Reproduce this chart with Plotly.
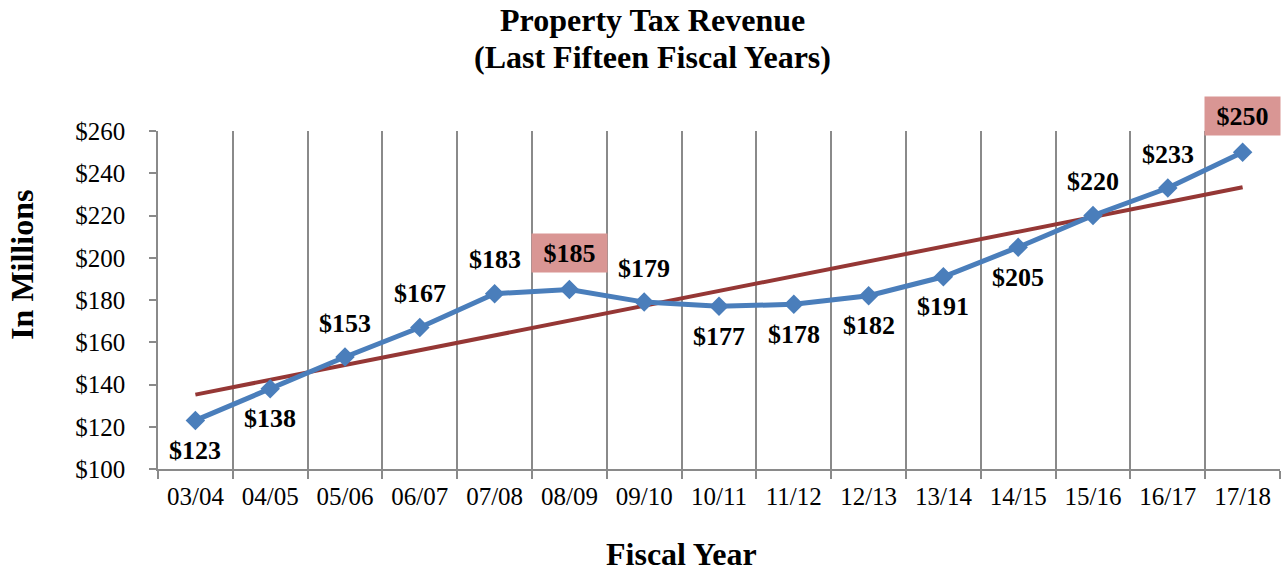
import numpy as np
import plotly.graph_objects as go

years = ["03/04", "04/05", "05/06", "06/07", "07/08", "08/09", "09/10", "10/11",
         "11/12", "12/13", "13/14", "14/15", "15/16", "16/17", "17/18"]
revenue = [123, 138, 153, 167, 183, 185, 179, 177, 178, 182, 191, 205, 220, 233, 250]
label_side = [-1, -1, 1, 1, 1, 1, 1, -1, -1, -1, -1, -1, 1, 1, 1]
highlight = [False] * 5 + [True] + [False] * 8 + [True]
y_ticks = [100, 120, 140, 160, 180, 200, 220, 240, 260]
title_lines = ["Property Tax Revenue", "(Last Fifteen Fiscal Years)"]

idx = np.arange(len(revenue))
slope, intercept = np.polyfit(idx, revenue, 1)
trend = slope * idx + intercept

FONT = "Liberation Serif"
H = 573

fig = go.Figure()
fig.add_trace(go.Scatter(x=years, y=list(trend), mode="lines",
                         line=dict(color="#953735", width=4), showlegend=False,
                         hoverinfo="skip"))
fig.add_trace(go.Scatter(x=years, y=revenue, mode="lines+markers",
                         line=dict(color="#4A7EBB", width=5),
                         marker=dict(symbol="diamond", size=15, color="#4A7EBB"),
                         showlegend=False))

for yr, v, side, hl in zip(years, revenue, label_side, highlight):
    if hl:
        fig.add_annotation(x=yr, y=v, xref="x", yref="y", text=f"${v}",
                           showarrow=False, yshift=36,
                           font=dict(family=FONT, size=26, color="black", weight="bold"),
                           bgcolor="#D99694", width=71, height=34, borderpad=2)
    else:
        fig.add_annotation(x=yr, y=v, xref="x", yref="y", text=f"${v}",
                           showarrow=False, yshift=34 if side > 0 else -30,
                           font=dict(family=FONT, size=26, color="black", weight="bold"))

# Title (two lines placed separately for tighter line spacing)
for line, ypix in zip(title_lines, [20, 57]):
    fig.add_annotation(xref="paper", yref="paper", x=0.441,
                       y=(H - 104 - ypix) / (H - 131 - 104),
                       xanchor="center", yanchor="middle", showarrow=False,
                       text=f"<b>{line}</b>",
                       font=dict(family=FONT, size=32, color="black"))
# Axis titles
fig.add_annotation(xref="paper", yref="paper", x=0.467,
                   y=(H - 104 - 554) / (H - 131 - 104),
                   xanchor="center", yanchor="middle", showarrow=False,
                   text="<b>Fiscal Year</b>",
                   font=dict(family=FONT, size=32, color="black"))
fig.add_annotation(xref="paper", yref="paper", x=-0.1212, y=0.604,
                   xanchor="center", yanchor="middle", showarrow=False, textangle=-90,
                   text="<b>In Millions</b>",
                   font=dict(family=FONT, size=32, color="black"))

fig.update_layout(
    width=1283, height=H,
    margin=dict(l=158, r=3, t=131, b=104),
    paper_bgcolor="white", plot_bgcolor="white",
    font=dict(family=FONT, color="black"),
)
fig.update_xaxes(
    type="category", range=[-0.5, len(years) - 0.5], tickson="boundaries",
    showgrid=True, gridcolor="#8A8A8A", gridwidth=1.5,
    showline=True, linecolor="#8A8A8A", linewidth=1.5,
    ticks="outside", ticklen=8, tickcolor="#8A8A8A", tickwidth=1.5,
    tickfont=dict(family=FONT, size=25, color="black"),
    ticklabelstandoff=4,
)
fig.update_yaxes(
    range=[100, 260], tickvals=y_ticks, ticktext=[f"${t}" for t in y_ticks],
    showgrid=False, zeroline=False,
    showline=True, linecolor="#8A8A8A", linewidth=1.5,
    ticks="outside", ticklen=7, tickcolor="#8A8A8A", tickwidth=1.5,
    ticklabelstandoff=19,
    tickfont=dict(family=FONT, size=25, color="black"),
)

fig.write_html("out.html")
